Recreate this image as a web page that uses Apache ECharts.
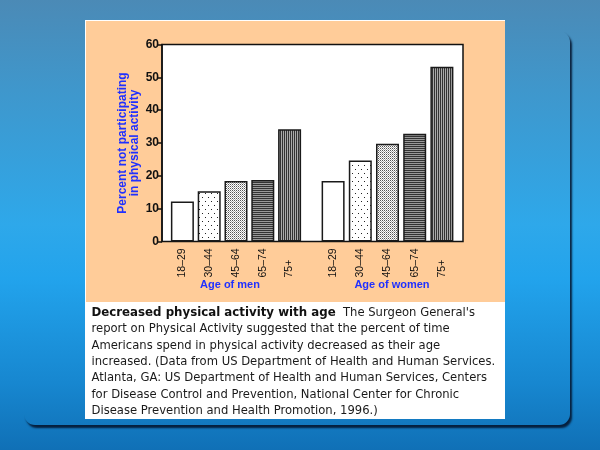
<!DOCTYPE html>
<html>
<head>
<meta charset="utf-8">
<script src="https://cdn.jsdelivr.net/npm/echarts@6/dist/echarts.min.js"></script>
<style>
  html, body { margin: 0; padding: 0; }
  body {
    width: 600px; height: 450px; overflow: hidden; position: relative;
    background: linear-gradient(180deg, #4b8ab6 0%, #3f97cc 20%, #2ea8ea 50%, #22a3ec 62%, #1787d0 85%, #1070b6 100%);
  }
  #panel {
    position: absolute; left: 24px; top: 31px; width: 546px; height: 394px;
    border-radius: 11px; box-shadow: 2px 3px 2px rgba(4, 22, 48, 0.9);
  }
  #photo {
    position: absolute; left: 85px; top: 20px; width: 420px; height: 399px; background: #fff;
  }
  #peach {
    position: absolute; left: 86px; top: 21px; width: 419px; height: 281px; background: #ffcc99;
  }
  #chart { position: absolute; left: 0; top: 0; width: 600px; height: 450px; }
</style>
</head>
<body>
<div id="panel"></div>
<div id="photo"></div>
<div id="peach"></div>
<div id="chart"></div>
<script>
var menAges = ['18–29', '30–44', '45–64', '65–74', '75+'];
var womenAges = ['18–29', '30–44', '45–64', '65–74', '75+'];
var menValues = [12.2, 15.3, 18.4, 18.7, 34.2];
var womenValues = [18.4, 24.7, 29.8, 32.8, 53.2];
var yMin = 0, yMax = 60, yStep = 10;
var yName = 'Percent not participating\nin physical activity';
var menLabel = 'Age of men';
var womenLabel = 'Age of women';
var captionLines = [
  '{b|Decreased physical activity with age}  The Surgeon General\'s',
  'report on Physical Activity suggested that the percent of time',
  'Americans spend in physical activity decreased as their age',
  'increased. (Data from US Department of Health and Human Services.',
  'Atlanta, GA: US Department of Health and Human Services, Centers',
  'for Disease Control and Prevention, National Center for Chronic',
  'Disease Prevention and Health Promotion, 1996.)'
];

// small tiles for the bar fills, one per age group
function tile(w, h, draw) {
  var c = document.createElement('canvas');
  c.width = w; c.height = h;
  var ctx = c.getContext('2d');
  ctx.fillStyle = '#fff';
  ctx.fillRect(0, 0, w, h);
  draw(ctx);
  return { image: c, repeat: 'repeat' };
}
var fills = [
  '#fff',
  tile(6, 8, function (ctx) {
    ctx.fillStyle = '#222';
    ctx.fillRect(1, 1, 1, 1);
    ctx.fillRect(4, 5, 1, 1);
  }),
  tile(2, 2, function (ctx) {
    ctx.fillStyle = '#555';
    ctx.fillRect(0, 0, 1, 1);
    ctx.fillStyle = '#aaa';
    ctx.fillRect(1, 1, 1, 1);
  }),
  tile(1, 2, function (ctx) {
    ctx.fillStyle = '#333';
    ctx.fillRect(0, 0, 1, 1);
    ctx.fillStyle = '#999';
    ctx.fillRect(0, 1, 1, 1);
  }),
  tile(2, 1, function (ctx) {
    ctx.fillStyle = '#333';
    ctx.fillRect(0, 0, 1, 1);
    ctx.fillStyle = '#aaa';
    ctx.fillRect(1, 0, 1, 1);
  })
];

function barData(values) {
  return values.map(function (v, i) {
    return { value: v, itemStyle: { color: fills[i] } };
  });
}

var catLabel = {
  rotate: 90,
  margin: 6,
  color: '#111',
  fontFamily: 'Liberation Sans',
  fontSize: 10.5,
  formatter: function (v) { return '{a|' + v + '}'; },
  rich: { a: { width: 30, align: 'left', fontFamily: 'Liberation Sans', fontSize: 10.5, color: '#111' } }
};

var chart = echarts.init(document.getElementById('chart'));
chart.setOption({
  animation: false,
  grid: [
    { left: 162, top: 44.5, width: 301, height: 197, show: true, backgroundColor: '#fff', borderColor: '#111', borderWidth: 1.5 },
    { left: 169, top: 44.5, width: 134, height: 197 },
    { left: 319.5, top: 44.5, width: 136, height: 197 }
  ],
  xAxis: [
    { gridIndex: 0, type: 'category', data: [''], show: false },
    { gridIndex: 1, type: 'category', data: menAges, axisLine: { show: false }, axisTick: { show: false }, axisLabel: catLabel },
    { gridIndex: 2, type: 'category', data: womenAges, axisLine: { show: false }, axisTick: { show: false }, axisLabel: catLabel }
  ],
  yAxis: [
    {
      gridIndex: 0, type: 'value', min: yMin, max: yMax, interval: yStep,
      axisLine: { show: true, lineStyle: { color: '#111', width: 1.5 } },
      axisTick: { show: true, length: 4, lineStyle: { color: '#111', width: 1.5 } },
      splitLine: { show: false },
      axisLabel: { margin: 3, color: '#111', fontWeight: 'bold', fontFamily: 'Liberation Sans', fontSize: 12 },
      name: yName, nameLocation: 'middle', nameGap: 21, nameMoveOverlap: false,
      nameTextStyle: { color: '#2030ff', fontWeight: 'bold', fontFamily: 'Liberation Sans', fontSize: 12, lineHeight: 12.5 }
    },
    { gridIndex: 1, type: 'value', min: yMin, max: yMax, show: false },
    { gridIndex: 2, type: 'value', min: yMin, max: yMax, show: false }
  ],
  series: [
    { name: menLabel, type: 'bar', xAxisIndex: 1, yAxisIndex: 1, barWidth: 23, data: barData(menValues),
      itemStyle: { borderColor: '#1a1a1a', borderWidth: 1.5 } },
    { name: womenLabel, type: 'bar', xAxisIndex: 2, yAxisIndex: 2, barWidth: 23, data: barData(womenValues),
      itemStyle: { borderColor: '#1a1a1a', borderWidth: 1.5 } }
  ],
  graphic: [
    { type: 'text', x: 230, y: 285, style: { text: menLabel, fill: '#2030ff', fontWeight: 'bold', fontFamily: 'Liberation Sans', fontSize: 11, align: 'center', verticalAlign: 'middle' } },
    { type: 'text', x: 392, y: 285, style: { text: womenLabel, fill: '#2030ff', fontWeight: 'bold', fontFamily: 'Liberation Sans', fontSize: 11, align: 'center', verticalAlign: 'middle' } },
    { type: 'text', x: 91.5, y: 304.5, style: {
        text: captionLines.join('\n'),
        fill: '#1a1a1a', fontFamily: 'DejaVu Sans', fontSize: 11.6, lineHeight: 16.4,
        verticalAlign: 'top',
        rich: { b: { fontFamily: 'DejaVu Sans', fontWeight: 'bold', fontSize: 11.8, lineHeight: 16.4, fill: '#111' } }
    } }
  ]
});
</script>
</body>
</html>
